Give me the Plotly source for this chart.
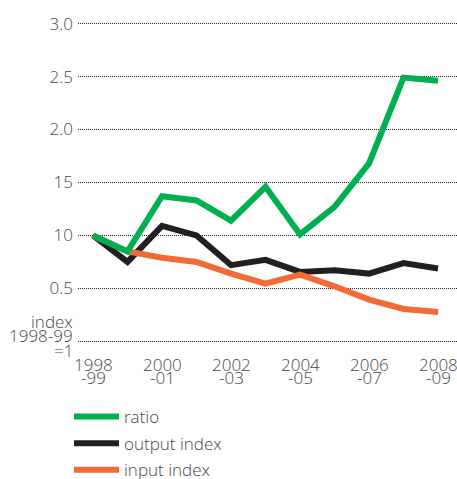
import plotly.graph_objects as go

FONT = "Open Sans, sans-serif"
TEXT = "#464646"

# Data (index, 1998-99 = 1)
periods = ["1998-99", "1999-00", "2000-01", "2001-02", "2002-03", "2003-04",
           "2004-05", "2005-06", "2006-07", "2007-08", "2008-09"]
ratio = [1.0, 0.85, 1.37, 1.33, 1.14, 1.46, 1.01, 1.27, 1.68, 2.49, 2.46]
output_index = [1.0, 0.75, 1.09, 1.0, 0.72, 0.77, 0.656, 0.672, 0.64, 0.74, 0.688]
input_index = [1.0, 0.85, 0.79, 0.75, 0.64, 0.546, 0.631, 0.52, 0.394, 0.306, 0.277]

# Axis labels (kept exactly as printed in the original)
y_tickvals = [0, 0.5, 1.0, 1.5, 2.0, 2.5, 3.0]
y_ticktext = ["", "0.5", "10", "15", "2.0", "2.5", "3.0"]
zero_label = ["index", "1998-99", "=1"]
x_label_periods = ["1998-99", "2000-01", "2002-03", "2004-05", "2006-07", "2008-09"]
x_label_top = ["1998", "2000", "2002", "2004", "2006", "2008"]
x_label_bottom = ["-99", "-01", "-03", "-05", "-07", "-09"]

GREEN = "#00b050"
BLACK = "#231f20"
ORANGE = "#f26a35"

fig = go.Figure()
series = [
    ("output index", output_index, BLACK, 2),
    ("input index", input_index, ORANGE, 3),
    ("ratio", ratio, GREEN, 1),
]
for name, vals, color, rank in series:
    fig.add_trace(go.Scatter(
        x=periods, y=vals, name=name, mode="lines",
        line=dict(color=color, width=6),
        legendrank=rank, legendgroup=name,
    ))

label_font = dict(family=FONT, size=17, color=TEXT, weight=300)

annotations = []
for i, txt in enumerate(zero_label):
    annotations.append(dict(
        text=txt, xref="paper", x=0, yref="y", y=0,
        xanchor="right", yanchor="middle", xshift=-3, yshift=20 - 14.5 * i,
        showarrow=False, font=label_font,
    ))
for per, top, bot in zip(x_label_periods, x_label_top, x_label_bottom):
    for txt, shift in ((top, -12), (bot, -25)):
        annotations.append(dict(
            text=txt, xref="x", x=per, yref="paper", y=0,
            xanchor="center", yanchor="middle", yshift=shift,
            showarrow=False, font=label_font,
        ))

W, H = 457, 479
fig.update_layout(
    width=W, height=H,
    margin=dict(l=78, r=0, t=13.4, b=127.4, autoexpand=False),
    plot_bgcolor="white", paper_bgcolor="white",
    font=label_font,
    annotations=annotations,
    showlegend=True,
    legend=dict(
        xref="container", yref="container",
        x=69 / W, y=1 - 399 / H, xanchor="left", yanchor="top",
        font=label_font,
        tracegroupgap=1.5, itemwidth=45, bgcolor="rgba(0,0,0,0)",
    ),
)
fig.update_xaxes(
    type="category", range=[-0.435, 10.55], showgrid=False, zeroline=False,
    showticklabels=False, ticks="", showline=False,
)
fig.update_yaxes(
    range=[-0.1, 3.1], tickvals=y_tickvals, ticktext=y_ticktext,
    showgrid=True, gridcolor="#222", gridwidth=1, griddash="1px,1px",
    zeroline=False, ticks="", showline=False, ticklabelstandoff=4,
    tickfont=label_font,
)

# drop the browser's default 8px body margin so the figure fills the window
fig.write_html(
    "out.html",
    config={"displayModeBar": False},
    post_script="document.body.style.margin='0';",
)
